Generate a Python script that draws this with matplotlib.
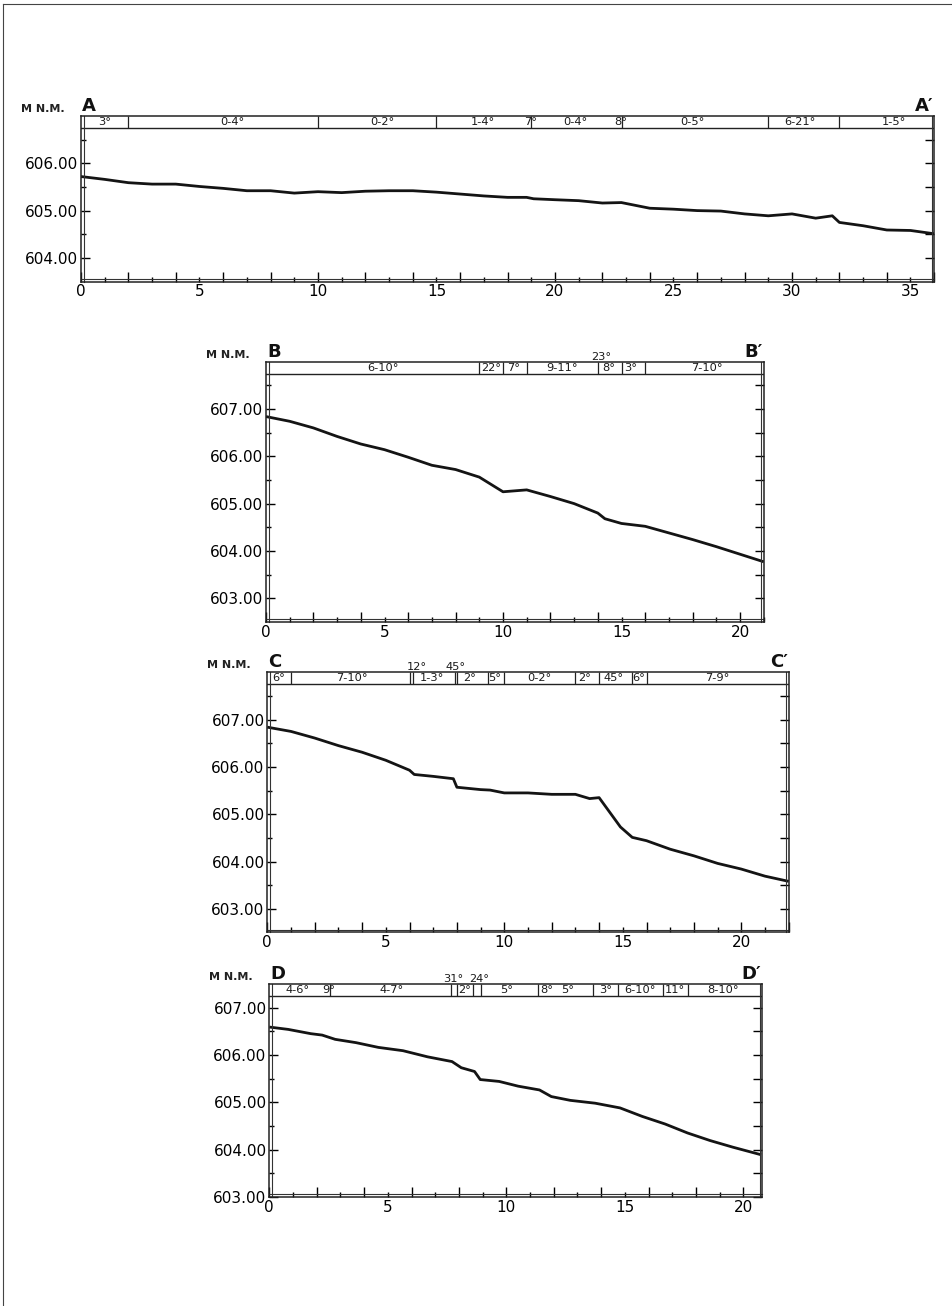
import numpy as np
import matplotlib.pyplot as plt
from matplotlib.lines import Line2D

plt.rcParams['font.family'] = ['DejaVu Sans']

# ---- profile A - A'
a_dist = [0, 1, 2, 3, 4, 5, 6, 7, 8, 9, 10, 11, 12, 13, 14, 15, 16, 17, 18, 18.8, 19.1,
          20, 21, 22, 22.8, 23, 24, 25, 26, 27, 28, 29, 30, 31, 31.7, 32, 33, 34, 35, 36]
a_elev = [605.72, 605.66, 605.59, 605.56, 605.56, 605.51, 605.47, 605.42, 605.42, 605.37,
          605.40, 605.38, 605.41, 605.42, 605.42, 605.39, 605.35, 605.31, 605.28, 605.28,
          605.25, 605.23, 605.21, 605.16, 605.17, 605.15, 605.05, 605.03, 605.00, 604.99,
          604.93, 604.89, 604.93, 604.84, 604.89, 604.75, 604.68, 604.59, 604.58, 604.51]
a_div = [2, 10, 15, 19, 22.82, 29, 32]
a_lab_x = [1.0, 6.4, 12.7, 16.95, 18.95, 20.85, 22.78, 25.8, 30.35, 34.3]
a_lab = ['3°', '0-4°', '0-2°', '1-4°', '7°', '0-4°', '8°', '0-5°', '6-21°', '1-5°']
a_top_x = []
a_top = []

# ---- profile B - B'
b_dist = [0, 1, 2, 3, 4, 5, 6, 7, 8, 9, 10, 11, 12, 13, 14, 14.3, 15, 16, 17, 18, 19, 20, 21]
b_elev = [606.84, 606.74, 606.60, 606.42, 606.26, 606.14, 605.98, 605.81, 605.72, 605.56,
          605.25, 605.29, 605.15, 605.00, 604.80, 604.68, 604.58, 604.52, 604.38, 604.24,
          604.09, 603.93, 603.77]
b_div = [9, 10, 11, 14, 15, 16]
b_lab_x = [4.95, 9.5, 10.45, 12.5, 14.47, 15.4, 18.6]
b_lab = ['6-10°', '22°', '7°', '9-11°', '8°', '3°', '7-10°']
b_top_x = [14.15]
b_top = ['23°']

# ---- profile C - C'
c_dist = [0, 1, 2, 3, 4, 5, 6, 6.2, 7, 7.85, 8.0, 9, 9.4, 10, 11, 12, 13, 13.6, 14,
          14.9, 15.4, 16, 17, 18, 19, 20, 21, 22]
c_elev = [606.84, 606.75, 606.61, 606.45, 606.31, 606.14, 605.93, 605.84, 605.80, 605.75,
          605.57, 605.52, 605.51, 605.45, 605.45, 605.42, 605.42, 605.33, 605.35,
          604.73, 604.51, 604.44, 604.26, 604.12, 603.96, 603.84, 603.69, 603.58]
c_div = [1, 6.0, 6.13, 7.9, 8.0, 9.3, 10, 13, 14, 15.37, 16]
c_lab_x = [0.5, 3.55, 6.95, 8.53, 9.6, 11.5, 13.4, 14.6, 15.65, 19.0]
c_lab = ['6°', '7-10°', '1-3°', '2°', '5°', '0-2°', '2°', '45°', '6°', '7-9°']
c_top_x = [6.3, 7.95]
c_top = ['12°', '45°']

# ---- profile D - D'
d_dist = [0, 0.8, 1.75, 2.23, 2.78, 3.66, 4.6, 5.64, 6.68, 7.71, 8.1, 8.66, 8.9, 9.7,
          10.5, 11.4, 11.9, 12.7, 13.75, 14.8, 15.74, 16.7, 17.65, 18.6, 19.56, 20.75]
d_elev = [606.59, 606.54, 606.45, 606.42, 606.33, 606.26, 606.16, 606.09, 605.96, 605.86,
          605.73, 605.65, 605.48, 605.44, 605.34, 605.26, 605.12, 605.04, 604.98, 604.88,
          604.70, 604.54, 604.35, 604.19, 604.05, 603.89]
d_div = [2.55, 7.68, 7.9, 8.6, 8.95, 11.35, 13.67, 14.73, 16.6, 17.65]
d_lab_x = [1.2, 2.5, 5.15, 8.25, 10.0, 11.7, 12.6, 14.2, 15.65, 17.1, 19.15]
d_lab = ['4-6°', '9°', '4-7°', '2°', '5°', '8°', '5°', '3°', '6-10°', '11°', '8-10°']
d_top_x = [7.77, 8.86]
d_top = ['31°', '24°']

W, H = 952, 1306
KX, KY = 23.7, 47.3      # pixels per distance unit / per metre
PT = 0.72                # points per pixel at 100 dpi

fig = plt.figure(figsize=(W / 100, H / 100), dpi=100)


def panel(left, top, xmax, ymin, ymax, dist, elev, divs, lab_x, lab, top_x, top_lab, name):
    w = xmax * KX
    h = (ymax - ymin) * KY
    ax = fig.add_axes([left / W, 1 - (top + h) / H, w / W, h / H])
    hb = ymax - 0.25

    ax.plot(dist, elev, color='#141414', lw=2.0, solid_joinstyle='round', solid_capstyle='butt')
    ax.set_xlim(0, xmax)
    ax.set_ylim(ymin, ymax)

    # header strip with slope classes
    ax.axhline(hb, color='#222', lw=1.0)
    ax.vlines(divs, hb, ymax, color='#222', lw=0.9)
    for x, t in zip(lab_x, lab):
        ax.text(x, (hb + ymax) / 2, t, ha='center', va='center', fontsize=8.2, color='#1a1a1a')
    for x, t in zip(top_x, top_lab):
        ax.text(x, ymax, t, ha='center', va='bottom', fontsize=8.2, color='#1a1a1a', clip_on=False)

    for s in ax.spines.values():
        s.set_linewidth(1.1)
        s.set_color('#222')
    # double frame look
    dx, dy = 2.5 / w, 2.5 / h
    for xs, ys in [([dx, dx], [0, 1]), ([1 - dx, 1 - dx], [0, 1]), ([0, 1], [dy, dy])]:
        ax.plot(xs, ys, transform=ax.transAxes, color='#333', lw=0.8, clip_on=False)

    # x ticks
    xt = list(range(0, int(xmax) + 1))
    ax.set_xticks(xt, [str(v) if v % 5 == 0 else '' for v in xt])
    ax.tick_params(axis='x', direction='in', top=False, width=1, length=7, pad=2, labelsize=11)
    for v, t in zip(xt, ax.xaxis.get_major_ticks()):
        t.tick1line.set_markersize(7.2 if v % 2 == 0 else 3.6)

    # y ticks
    majors = np.arange(np.ceil(ymin), hb, 1.0)
    minors = np.arange(np.floor(ymin) + 0.5, hb, 1.0)
    minors = minors[minors > ymin + 0.01]
    ax.set_yticks(majors, [f'{v:.2f}' for v in majors])
    ax.set_yticks(minors, minor=True)
    ax.tick_params(axis='y', which='both', direction='in', left=True, right=True,
                   width=1, pad=2, labelsize=11)
    ax.tick_params(axis='y', which='major', length=6.5)
    ax.tick_params(axis='y', which='minor', length=3.5)
    for t in ax.yaxis.get_major_ticks() + ax.yaxis.get_minor_ticks():
        t.tick2line.set_markersize(6.5)

    ax.annotate('M N.M.', xy=(0, 1), xycoords='axes fraction', xytext=(-38 * PT, 2 * PT),
                textcoords='offset points', ha='center', va='bottom', fontsize=8,
                fontweight='bold', color='#222')
    ax.annotate(name, xy=(0, 1), xycoords='axes fraction', xytext=(1 * PT, 1 * PT),
                textcoords='offset points', ha='left', va='bottom', fontsize=13,
                fontweight='bold', color='#111')
    ax.annotate(name + '′', xy=(1, 1), xycoords='axes fraction', xytext=(-1 * PT, 1 * PT),
                textcoords='offset points', ha='right', va='bottom', fontsize=13,
                fontweight='bold', color='#111')
    return ax


panel(81, 116, 36, 603.5, 607.0, a_dist, a_elev, a_div, a_lab_x, a_lab, a_top_x, a_top, 'A')
panel(266, 361.7, 21, 602.5, 608.0, b_dist, b_elev, b_div, b_lab_x, b_lab, b_top_x, b_top, 'B')
panel(267.3, 672.3, 22, 602.5, 608.0, c_dist, c_elev, c_div, c_lab_x, c_lab, c_top_x, c_top, 'C')
panel(269.3, 984, 20.8, 603.0, 607.5, d_dist, d_elev, d_div, d_lab_x, d_lab, d_top_x, d_top, 'D')

# page border (scan edge)
fig.add_artist(Line2D([3 / W, 3 / W], [0, 1 - 4 / H], color='#444', lw=0.8))
fig.add_artist(Line2D([3 / W, 1], [1 - 4 / H, 1 - 4 / H], color='#444', lw=0.8))

fig.savefig('out.png', dpi=100, facecolor='white')
